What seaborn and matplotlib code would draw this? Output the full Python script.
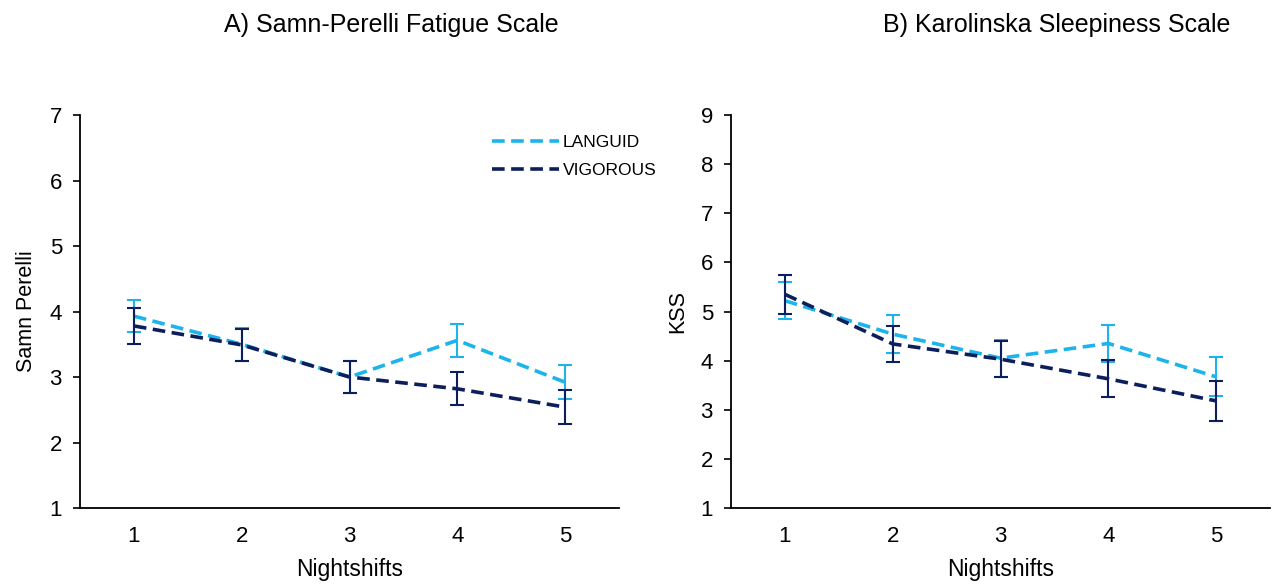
import matplotlib
matplotlib.use("Agg")
import matplotlib.pyplot as plt
import pandas as pd
import seaborn as sns
from matplotlib.ticker import FixedLocator

# ---------- data ----------
nightshifts = [1, 2, 3, 4, 5]
groups = ["LANGUID", "VIGOROUS"]

sp_languid = [3.93, 3.50, 3.00, 3.56, 2.92]
sp_languid_err = [0.25, 0.25, 0.25, 0.25, 0.26]
sp_vigorous = [3.78, 3.49, 3.00, 2.82, 2.54]
sp_vigorous_err = [0.27, 0.25, 0.25, 0.25, 0.26]

kss_languid = [5.22, 4.54, 4.05, 4.35, 3.67]
kss_languid_err = [0.38, 0.38, 0.38, 0.37, 0.40]
kss_vigorous = [5.35, 4.34, 4.03, 3.63, 3.18]
kss_vigorous_err = [0.40, 0.36, 0.37, 0.38, 0.40]

colors = {"LANGUID": "#1DB4EC", "VIGOROUS": "#0C1F5C"}

sns.set_style("white")
plt.rcParams["font.family"] = ["Liberation Sans", "DejaVu Sans"]
plt.rcParams["text.color"] = "black"
plt.rcParams["axes.labelcolor"] = "black"
plt.rcParams["xtick.color"] = "black"
plt.rcParams["ytick.color"] = "black"


def make_frame(languid, languid_err, vigorous, vigorous_err):
    rows = []
    for g, vals, errs in [("LANGUID", languid, languid_err),
                          ("VIGOROUS", vigorous, vigorous_err)]:
        for x, v, e in zip(nightshifts, vals, errs):
            rows.append({"Nightshifts": x, "value": v, "err": e, "group": g})
    return pd.DataFrame(rows)


def draw_panel(ax, df, ylabel, ylim, legend):
    sns.lineplot(data=df, x="Nightshifts", y="value", hue="group",
                 hue_order=groups, palette=colors, ax=ax, lw=2.6,
                 legend=legend)
    for line in ax.get_lines():
        line.set_dashes((3.5, 1.8))
    for z, g in enumerate(groups):
        sub = df[df["group"] == g]
        ax.errorbar(sub["Nightshifts"], sub["value"], yerr=sub["err"],
                    fmt="none", ecolor=colors[g], elinewidth=1.5,
                    capsize=5, capthick=1.5, zorder=3 + z)
    ax.set_xlim(0.5, 5.5)
    ax.set_ylim(*ylim)
    ax.set_yticks(range(ylim[0], ylim[1] + 1))
    ax.set_xticks(nightshifts)
    ax.xaxis.set_minor_locator(FixedLocator([1.5, 2.5, 3.5, 4.5, 5.5]))
    ax.tick_params(axis="x", which="major", length=0, labelsize=16, pad=13)
    ax.tick_params(axis="x", which="minor", direction="in", length=6,
                   width=1.2, color="black")
    ax.tick_params(axis="y", direction="out", length=5, width=1.2,
                   color="black", labelsize=16, left=True, pad=8)
    ax.set_xlabel("Nightshifts", fontsize=16.5, labelpad=8)
    ax.set_ylabel(ylabel, fontsize=15.5, labelpad=9)
    sns.despine(ax=ax)
    for s in ["left", "bottom"]:
        ax.spines[s].set_color("black")
        ax.spines[s].set_linewidth(1.3)


fig = plt.figure(figsize=(12.78, 5.86), dpi=100)
ax_a = fig.add_axes([0.0626, 0.1331, 0.4218, 0.6706])
ax_b = fig.add_axes([0.5720, 0.1331, 0.4218, 0.6706])

draw_panel(ax_a, make_frame(sp_languid, sp_languid_err,
                            sp_vigorous, sp_vigorous_err),
           "Samn Perelli", (1, 7), True)
draw_panel(ax_b, make_frame(kss_languid, kss_languid_err,
                            kss_vigorous, kss_vigorous_err),
           "KSS", (1, 9), False)

leg = ax_a.legend(loc="upper left", bbox_to_anchor=(0.752, 0.968),
                  frameon=False, fontsize=12.5, handlelength=3.85,
                  handletextpad=0.2, labelspacing=0.75, borderaxespad=0)
for h in leg.get_lines():
    h.set_dashes((3.5, 1.8))
    h.set_linewidth(2.6)

fig.text(0.306, 0.957, "A) Samn-Perelli Fatigue Scale", ha="center",
         va="center", fontsize=18)
fig.text(0.827, 0.957, "B) Karolinska Sleepiness Scale", ha="center",
         va="center", fontsize=18)

fig.savefig("out.png", dpi=100)
